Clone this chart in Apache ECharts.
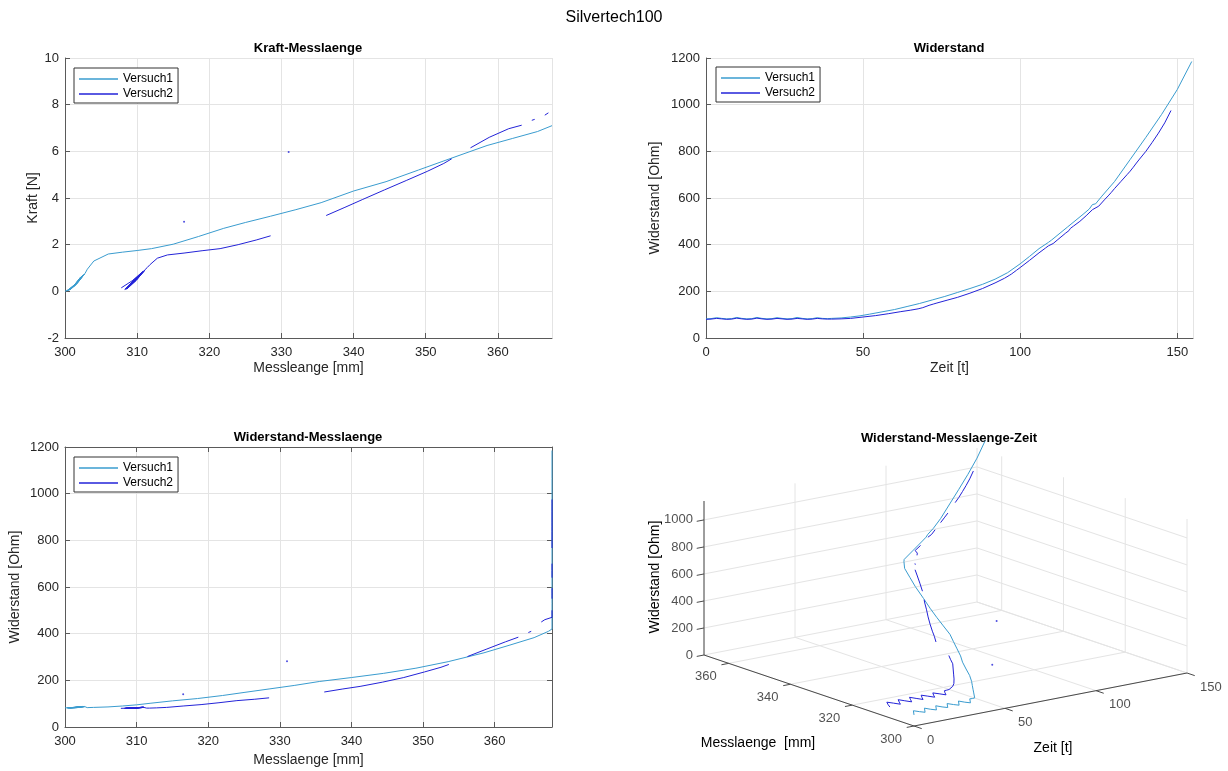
<!DOCTYPE html>
<html>
<head>
<meta charset="utf-8">
<title>Silvertech100</title>
<script src="https://cdn.jsdelivr.net/npm/echarts@6/dist/echarts.min.js"></script>
<style>
  html, body { margin: 0; padding: 0; background: #fff; }
  #chart { width: 1228px; height: 771px; }
</style>
</head>
<body>
<div id="chart"></div>
<script>
// Versuch1: Zeit [t], Messlaenge [mm], Kraft [N], Widerstand [Ohm]
const zeit1 = [0, 1.6, 3.4, 5.0, 6.6, 8.2, 9.8, 11.4, 13.0, 14.6, 16.2, 17.8, 19.4, 21.0, 22.6, 24.2, 25.8, 27.4, 29.0, 30.6, 32.2, 33.8, 35.4, 37.0, 38.6,
  40, 43, 46, 49, 52, 56, 60, 64, 68, 72, 76, 80, 84, 88, 92, 96, 100, 103, 106, 109,
  110, 115, 120, 122, 123, 124, 126, 130, 135, 140, 145, 150, 154.6];
const mess1 = [300.0, 300.9, 302.2, 301.2, 300.3, 301.3, 302.4, 301.3, 300.4, 301.4, 302.5, 301.4, 300.5, 301.5, 302.6, 301.5, 300.6, 301.6, 302.7, 301.6, 300.7, 301.7, 302.8, 302.9, 303.1,
  304.0, 306.0, 308.0, 310.0, 312.0, 315.0, 318.5, 322.0, 325.0, 328.5, 332.0, 335.5, 340.0, 344.5, 349.0, 353.5, 358.5, 362.0, 365.5, 367.5,
  368, 368, 368, 368, 368, 368, 368, 368, 368, 368, 368, 368, 368];
const kraft1 = [0.00, 0.12, 0.62, 0.22, 0.03, 0.28, 0.66, 0.24, 0.04, 0.30, 0.69, 0.26, 0.05, 0.32, 0.71, 0.28, 0.06, 0.34, 0.74, 0.30, 0.07, 0.36, 0.78, 0.85, 0.95,
  1.30, 1.60, 1.68, 1.75, 1.83, 2.02, 2.35, 2.70, 2.95, 3.22, 3.50, 3.80, 4.30, 4.70, 5.20, 5.70, 6.25, 6.55, 6.85, 7.10,
  null, null, null, null, null, null, null, null, null, null, null, null, null];
const wid1 = [82, 83, 87, 84, 82, 83, 88, 84, 82, 83, 88, 84, 82, 83, 87, 84, 82, 83, 88, 84, 82, 83, 87, 84, 83,
  84, 86, 90, 95, 102, 112, 122, 135, 148, 163, 178, 195, 212, 230, 252, 280, 318, 350, 383, 410,
  420, 475, 530, 553, 572, 575, 608, 670, 765, 860, 958, 1065, 1185];

// Versuch2 (null = kein Messwert)
const zeit2 = [0, 1.6, 3.4, 5.0, 6.6, 8.2, 9.8, 11.4, 13.0, 14.6, 16.2, 17.8, 19.4, 21.0, 22.6, 24.2, 25.8, 27.4, 29.0, 30.6, 32.2, 33.8, 35.4, 37.0, 38.6,
  40, 43, 46, 50, 54, 58, 62, 65, 67.5, 69, 71, 72.5, 73.5, 77, 80, 84, 88, 92, 95, 96.5, 97.2, 98, 98.8,
  100, 103, 106, 108, 109, 110.5, 111, 112, 114.5, 115.5, 116, 117, 119, 120, 121, 123, 125, 127, 128, 129,
  130, 132, 134, 135, 136, 137, 138, 140, 142, 144, 146, 148];
const mess2 = [307.8, 309.3, 310.8, 309.6, 308.3, 309.6, 310.9, 309.7, 308.4, 309.7, 311.0, 309.8, 308.5, 309.8, 311.0, 309.8, 308.5, 309.8, 311.0, 309.9, 308.6, 309.9, 311.0, 311.2, 311.4,
  311.8, 312.8, 314.2, 316.5, 319.0, 321.5, 324.0, 326.5, 328.5, null, 316.5, null, 336.2, 338.8, 341.2, 344.3, 347.3, 350.2, 352.5, 353.6, null, 331.0, null,
  356.2, 358.8, 361.5, 363.3, null, 364.7, 365.1, null, 366.5, 367.0, 368, 368, 368, null, null, 368, 368, 368, null, null,
  368, 368, 368, null, null, null, 368, 368, 368, 368, 368, 368];
const kraft2 = [0.15, 0.45, 0.85, 0.50, 0.08, 0.45, 0.86, 0.52, 0.09, 0.46, 0.88, 0.53, 0.10, 0.46, 0.88, 0.53, 0.10, 0.47, 0.89, 0.54, 0.11, 0.47, 0.90, 0.95, 1.02,
  1.15, 1.42, 1.56, 1.64, 1.74, 1.83, 2.00, 2.20, 2.38, null, 2.98, null, 3.25, 3.60, 3.93, 4.35, 4.75, 5.14, 5.48, 5.68, null, 5.97, null,
  6.15, 6.60, 6.97, 7.12, null, 7.33, 7.37, null, 7.55, 7.65, null, null, null, null, null, null, null, null, null, null,
  null, null, null, null, null, null, null, null, null, null, null, null];
const wid2 = [80, 81, 84, 82, 80, 81, 85, 82, 80, 81, 85, 82, 80, 81, 84, 82, 80, 81, 84, 82, 80, 81, 84, 82, 81,
  81, 82, 84, 90, 96, 104, 113, 119, 125, 130, 140, 146, 150, 163, 174, 192, 212, 236, 256, 268, 274, 282, 290,
  302, 333, 365, 385, 395, 405, 410, 422, 450, 460, 470, 480, 500, 512, 524, 550, 565, 595, 609, 624,
  640, 670, 700, 715, 732, 750, 767, 800, 838, 878, 922, 975];

// Achsen-Ticks des 3D-Plots
const messTicks = [300, 320, 340, 360];
const zeitTicks = [0, 50, 100, 150];
const widTicks = [0, 200, 400, 600, 800, 1000];

const FONT = '"Liberation Sans", Arial, Helvetica, sans-serif';
const C1 = '#3a9ccf';
const C2 = '#2323d8';
const AXIS = '#5a5a5a';
const TEXT = '#262626';
const GRID = '#e4e4e4';

// 3D-Projektion (Messlaenge, Zeit, Widerstand) -> Bildebene
const M0 = 300, M1 = 368, T1 = 150, W1 = 1140;
function proj(m, t, w) {
  const u = (m - M0) / (M1 - M0);
  const v = t / T1;
  return [-210 * u + 273 * v, 71 * u + 53 * v + 154 * w / W1];
}

function pairs(xs, ys) {
  return xs.map((x, i) => (x == null || ys[i] == null) ? [null, null] : [x, ys[i]]);
}
function lonely(pts) {
  return pts.filter((p, i) => p[0] != null &&
    (i === 0 || pts[i - 1][0] == null) && (i === pts.length - 1 || pts[i + 1][0] == null));
}
function path3d(zeit, mess, wid) {
  return zeit.map((t, i) => (mess[i] == null || wid[i] == null) ? [null, null] : proj(mess[i], t, wid[i]));
}
function segs(list) {
  const out = [];
  list.forEach(([a, b]) => { out.push(proj(a[0], a[1], a[2]), proj(b[0], b[1], b[2]), [null, null]); });
  return out;
}

// Gitterlinien im 3D-Plot
const grid3dLines = [];
messTicks.forEach(m => {
  grid3dLines.push([[m, 0, 0], [m, T1, 0]]);
  grid3dLines.push([[m, T1, 0], [m, T1, W1]]);
});
zeitTicks.forEach(t => {
  grid3dLines.push([[M0, t, 0], [M1, t, 0]]);
  grid3dLines.push([[M1, t, 0], [M1, t, W1]]);
});
widTicks.forEach(w => {
  grid3dLines.push([[M1, 0, w], [M1, T1, w]]);
  grid3dLines.push([[M0, T1, w], [M1, T1, w]]);
});
const axes3dLines = [
  [[M0, 0, 0], [M1, 0, 0]],
  [[M0, 0, 0], [M0, T1, 0]],
  [[M1, 0, 0], [M1, 0, W1]]
];
messTicks.forEach(m => axes3dLines.push([[m, 0, 0], [m, -4, 0]]));
zeitTicks.forEach(t => axes3dLines.push([[M0, t, 0], [M0 - 2.5, t, 0]]));
widTicks.forEach(w => axes3dLines.push([[M1, 0, w], [M1, -4, w]]));

const kraftV1 = pairs(mess1, kraft1), kraftV2 = pairs(mess2, kraft2);
const zeitV1 = pairs(zeit1, wid1), zeitV2 = pairs(zeit2, wid2);
const wmV1 = pairs(mess1, wid1), wmV2 = pairs(mess2, wid2);
const p3V1 = path3d(zeit1, mess1, wid1), p3V2 = path3d(zeit2, mess2, wid2);

const plain = v => String(v);

function axisLabel(extra) {
  return Object.assign({ color: TEXT, fontSize: 13, fontFamily: FONT, margin: 8, formatter: plain }, extra || {});
}
function valueAxis(opts) {
  return Object.assign({
    type: 'value',
    axisLine: { show: true, onZero: false, lineStyle: { color: AXIS, width: 1 } },
    axisTick: { show: true, inside: true, length: 5, lineStyle: { color: AXIS } },
    axisLabel: axisLabel(),
    splitLine: { show: true, lineStyle: { color: GRID, width: 1 } },
    nameLocation: 'middle',
    nameTextStyle: { color: TEXT, fontSize: 14, fontFamily: FONT }
  }, opts);
}
function lineSeries(name, data, color, xi, yi, extra) {
  return Object.assign({
    name: name, type: 'line', data: data, xAxisIndex: xi, yAxisIndex: yi,
    showSymbol: false, symbol: 'none', connectNulls: false,
    lineStyle: { color: color, width: 1 }, itemStyle: { color: color },
    emphasis: { disabled: true }, z: 3
  }, extra || {});
}
function dotSeries(data, color, xi, yi) {
  return {
    name: 'dots', type: 'scatter', data: data, xAxisIndex: xi, yAxisIndex: yi,
    symbolSize: 2, itemStyle: { color: color, opacity: 0.8 }, emphasis: { disabled: true }, z: 3, clip: false
  };
}
function tickLabels(items, align, offset) {
  return {
    name: 'ticklabels', type: 'scatter', xAxisIndex: 4, yAxisIndex: 4,
    data: items, symbolSize: 1, itemStyle: { color: 'rgba(0,0,0,0)' }, clip: false,
    emphasis: { disabled: true }, silent: true,
    label: { show: true, position: 'inside', formatter: '{b}', align: align, verticalAlign: 'middle',
      offset: offset, color: TEXT, fontSize: 13, fontFamily: FONT }
  };
}
function legendAt(left, top) {
  return {
    left: left, top: top, orient: 'vertical', data: ['Versuch1', 'Versuch2'],
    icon: 'rect', itemWidth: 39, itemHeight: 1.5, itemGap: 3,
    padding: [5, 5, 3, 5], borderColor: '#333', borderWidth: 1, backgroundColor: '#fff',
    textStyle: { fontSize: 12, color: '#000', fontFamily: FONT },
    selectedMode: false
  };
}
function txt(text, x, y, size, weight, rot) {
  return {
    type: 'text', x: x, y: y, rotation: rot || 0, z: 10,
    style: { text: text, fill: '#000', fontSize: size, fontWeight: weight || 'normal',
      fontFamily: FONT, align: 'center', verticalAlign: 'middle' }
  };
}

const option = {
  animation: false,
  backgroundColor: '#fff',
  grid: [
    { left: 65, top: 58, width: 487, height: 280, outerBoundsMode: 'none' },
    { left: 706, top: 58, width: 487, height: 280, outerBoundsMode: 'none' },
    { left: 65, top: 447, width: 487, height: 280, outerBoundsMode: 'none' },
    { left: 674, top: 426, width: 540, height: 340, outerBoundsMode: 'none' }
  ],
  xAxis: [
    valueAxis({ gridIndex: 0, min: 300, max: 367.5, interval: 10, name: 'Messleange [mm]', nameGap: 23,
      axisLabel: axisLabel({ showMaxLabel: false }) }),
    valueAxis({ gridIndex: 1, min: 0, max: 155, interval: 50, name: 'Zeit [t]', nameGap: 23,
      axisLabel: axisLabel({ showMaxLabel: false }) }),
    valueAxis({ gridIndex: 2, min: 300, max: 368, interval: 10, name: 'Messlaenge [mm]', nameGap: 26,
      axisLabel: axisLabel({ showMaxLabel: false }) }),
    valueAxis({ gridIndex: 2, min: 300, max: 368, interval: 10, position: 'top',
      axisLabel: { show: false }, splitLine: { show: false } }),
    { type: 'value', gridIndex: 3, min: -240, max: 300, show: false }
  ],
  yAxis: [
    valueAxis({ gridIndex: 0, min: -2, max: 10, interval: 2, name: 'Kraft [N]', nameGap: 25,
      axisLabel: axisLabel({ margin: 6 }) }),
    valueAxis({ gridIndex: 1, min: 0, max: 1200, interval: 200, name: 'Widerstand [Ohm]', nameGap: 44,
      axisLabel: axisLabel({ margin: 6 }) }),
    valueAxis({ gridIndex: 2, min: 0, max: 1200, interval: 200, name: 'Widerstand [Ohm]', nameGap: 43,
      axisLabel: axisLabel({ margin: 6 }) }),
    valueAxis({ gridIndex: 2, min: 0, max: 1200, interval: 200, position: 'right',
      axisLabel: { show: false }, splitLine: { show: false } }),
    { type: 'value', gridIndex: 3, min: -40, max: 300, show: false }
  ],
  legend: [legendAt(74, 68), legendAt(716, 67), legendAt(74, 457)],
  series: [
    // Kraft-Messlaenge
    lineSeries('Versuch1', kraftV1, C1, 0, 0),
    lineSeries('Versuch2', kraftV2, C2, 0, 0),
    dotSeries(lonely(kraftV1), C1, 0, 0),
    dotSeries(lonely(kraftV2), C2, 0, 0),
    // Widerstand
    lineSeries('Versuch1', zeitV1, C1, 1, 1),
    lineSeries('Versuch2', zeitV2, C2, 1, 1),
    // Widerstand-Messlaenge
    lineSeries('Versuch1', wmV1, C1, 2, 2),
    lineSeries('Versuch2', wmV2, C2, 2, 2),
    dotSeries(lonely(wmV1), C1, 2, 2),
    dotSeries(lonely(wmV2), C2, 2, 2),
    // Widerstand-Messlaenge-Zeit (3D)
    lineSeries('grid3d', segs(grid3dLines), GRID, 4, 4, { z: 1, clip: false }),
    lineSeries('axes3d', segs(axes3dLines), '#4a4a4a', 4, 4, { z: 2, clip: false }),
    lineSeries('Versuch1', p3V1, C1, 4, 4, { clip: false }),
    lineSeries('Versuch2', p3V2, C2, 4, 4, { clip: false }),
    dotSeries(lonely(p3V1), C1, 4, 4),
    dotSeries(lonely(p3V2), C2, 4, 4),
    tickLabels(widTicks.map(w => ({ value: proj(M1, 0, w), name: String(w) })), 'right', [-11, 0]),
    tickLabels(messTicks.map(m => ({ value: proj(m, 0, 0), name: String(m) })), 'right', [-12, 13]),
    tickLabels(zeitTicks.map(t => ({ value: proj(M0, t, 0), name: String(t) })), 'left', [13, 14])
  ],
  graphic: [
    txt('Silvertech100', 614, 18, 16),
    txt('Kraft-Messlaenge', 308, 48, 13, 'bold'),
    txt('Widerstand', 949, 48, 13, 'bold'),
    txt('Widerstand-Messlaenge', 308, 437, 13, 'bold'),
    txt('Widerstand-Messlaenge-Zeit', 949, 438, 13, 'bold'),
    txt('Widerstand [Ohm]', 655, 577, 14, 'normal', Math.PI / 2),
    txt('Messlaenge  [mm]', 758, 743, 14),
    txt('Zeit [t]', 1053, 748, 14)
  ]
};

const chart = echarts.init(document.getElementById('chart'));
chart.setOption(option);
</script>
</body>
</html>
